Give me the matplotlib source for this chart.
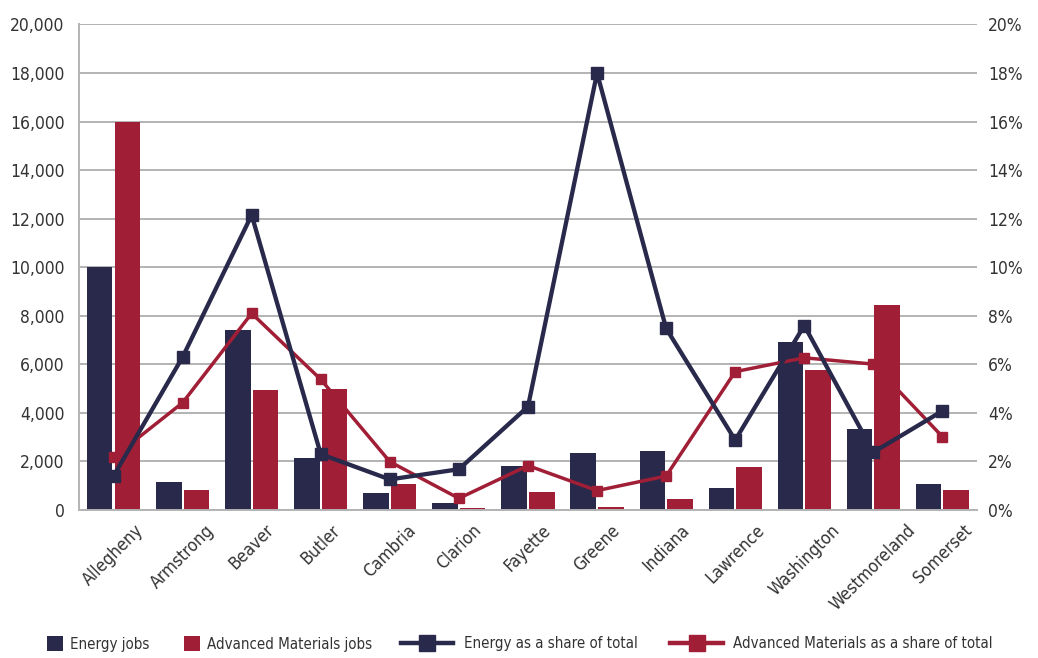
import matplotlib
matplotlib.use("Agg")
import matplotlib.pyplot as plt
import numpy as np
from matplotlib.ticker import FuncFormatter
from matplotlib.lines import Line2D
from matplotlib.patches import Patch

counties = ["Allegheny", "Armstrong", "Beaver", "Butler", "Cambria", "Clarion",
            "Fayette", "Greene", "Indiana", "Lawrence", "Washington",
            "Westmoreland", "Somerset"]
energy_jobs = [10000, 1150, 7400, 2150, 720, 280, 1820, 2340, 2430, 900, 6920, 3330, 1070]
materials_jobs = [16000, 820, 4950, 5000, 1070, 80, 750, 120, 450, 1770, 5770, 8450, 820]
energy_share = [1.4, 6.3, 12.15, 2.3, 1.26, 1.68, 4.26, 18.0, 7.48, 2.88, 7.6, 2.38, 4.08]
materials_share = [2.17, 4.42, 8.1, 5.38, 1.99, 0.48, 1.83, 0.8, 1.4, 5.7, 6.27, 6.01, 3.02]
left_ticks = list(range(0, 20001, 2000))
right_ticks = list(range(0, 21, 2))

NAVY = "#29294b"
RED = "#a11f36"
GRID = "#b3b3b3"
TEXT = "#333333"
plt.rcParams["font.family"] = ["DejaVu Sans"]
plt.rcParams["font.stretch"] = "condensed"

fig = plt.figure(figsize=(10.38, 6.58), dpi=100)
ax = fig.add_axes([0.0761, 0.2249, 0.8651, 0.7379])
ax2 = ax.twinx()

x = np.arange(len(counties))
w = 0.37
ax.bar(x - 0.2, energy_jobs, width=w, color=NAVY, zorder=2)
ax.bar(x + 0.2, materials_jobs, width=w, color=RED, zorder=2)

ax.set_xlim(-0.5, len(counties) - 0.5)
ax.set_ylim(0, 20000)
ax.set_yticks(left_ticks)
ax.yaxis.set_major_formatter(FuncFormatter(lambda v, p: f"{int(v):,}"))
ax.grid(axis="y", color=GRID, linewidth=1.4, zorder=0)
ax.set_axisbelow(True)
for s in ["top", "right"]:
    ax.spines[s].set_visible(False)
for s in ["left", "bottom"]:
    ax.spines[s].set_color(GRID)
    ax.spines[s].set_linewidth(1.4)
ax.tick_params(axis="y", length=0, colors=TEXT, labelsize=12.5, pad=10.5)
ax.set_xticks(x)
ax.set_xticklabels(counties, rotation=45, ha="center", fontsize=12.5)
ax.tick_params(axis="x", length=0, colors=TEXT, pad=8)

ax2.plot(x, energy_share, color=NAVY, linewidth=3.1, marker="s", markersize=9, zorder=4)
ax2.plot(x, materials_share, color=RED, linewidth=2.5, marker="s", markersize=6.8, zorder=3)
ax2.set_ylim(0, 20)
ax2.set_yticks(right_ticks)
ax2.yaxis.set_major_formatter(FuncFormatter(lambda v, p: f"{int(v)}%"))
ax2.tick_params(axis="y", length=0, colors=TEXT, labelsize=12.5, pad=8)
for s in ax2.spines.values():
    s.set_visible(False)

# Legend: boxes for the bar series, then line+marker entries for the shares
leg_y = 0.0213
bar_leg = fig.legend(
    [Patch(facecolor=NAVY), Patch(facecolor=RED)],
    ["Energy jobs", "Advanced Materials jobs"],
    loc="center left", bbox_to_anchor=(0.0453, leg_y), ncol=2, frameon=False,
    fontsize=10.8, labelcolor=TEXT, handlelength=1.07, handleheight=1.07,
    handletextpad=0.47, columnspacing=2.3, borderpad=0, borderaxespad=0)
line_leg = fig.legend(
    [Line2D([], [], color=NAVY, linewidth=3.2, marker="s", markersize=11),
     Line2D([], [], color=RED, linewidth=3.2, marker="s", markersize=11)],
    ["Energy as a share of total", "Advanced Materials as a share of total"],
    loc="center left", bbox_to_anchor=(0.3863, leg_y), ncol=2, frameon=False,
    fontsize=10.8, labelcolor=TEXT, handlelength=3.5,
    handletextpad=0.67, columnspacing=2.2, borderpad=0, borderaxespad=0)

fig.savefig("out.png", dpi=100)
